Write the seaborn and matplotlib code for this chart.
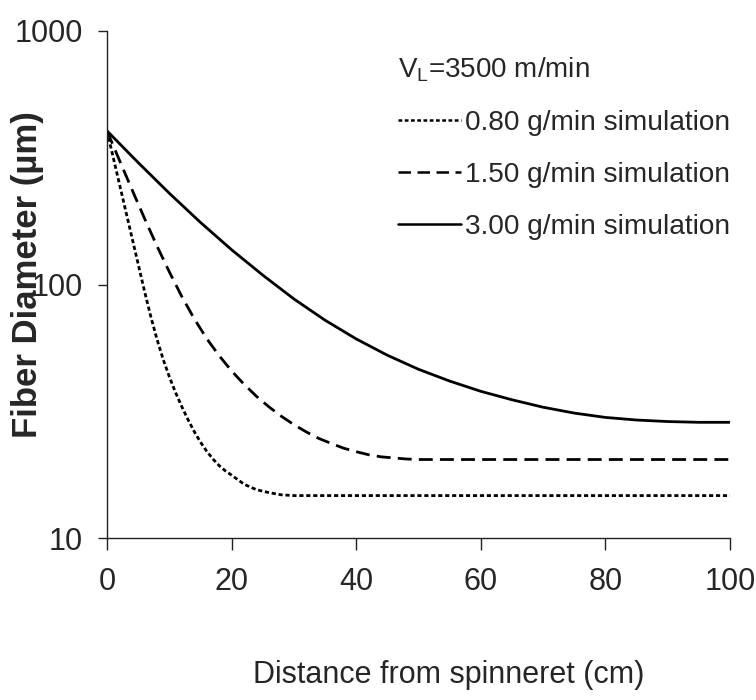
import numpy as np
import pandas as pd
import matplotlib
matplotlib.use("Agg")
import matplotlib.pyplot as plt
import seaborn as sns

# ---- data ----
x_080 = [0, 1, 2, 3, 4, 5, 6, 7, 8, 9, 10, 11, 12, 13, 14, 15, 16, 17, 18, 19, 20,
         22, 24, 26, 28, 30, 40, 50, 60, 70, 80, 90, 100]
d_080 = [403.6, 317, 249, 195.4, 153.5, 120.5, 94.6, 75.2, 61.1, 50.8, 43.3, 37.5,
         33.0, 29.3, 26.3, 23.9, 22.0, 20.5, 19.3, 18.4, 17.7, 16.3, 15.5, 15.1,
         14.8, 14.7, 14.7, 14.7, 14.7, 14.7, 14.7, 14.7, 14.7]

x_150 = [0, 2, 4, 6, 8, 10, 12, 14, 16, 18, 20, 22, 24, 26, 28, 30, 32, 34, 36, 38,
         40, 42, 44, 46, 48, 50, 60, 70, 80, 90, 100]
d_150 = [403.6, 309.0, 237.1, 182.8, 142.2, 112.2, 89.7, 73.3, 61.2, 52.4, 45.6,
         40.4, 36.2, 32.9, 30.2, 28.0, 26.2, 24.7, 23.6, 22.6, 21.9, 21.3, 20.9,
         20.7, 20.5, 20.4, 20.4, 20.4, 20.4, 20.4, 20.4]

x_300 = [0, 5, 10, 15, 20, 25, 30, 35, 40, 45, 50, 55, 60, 65, 70, 75, 80, 85, 90,
         95, 100]
d_300 = [403.6, 302.7, 229.1, 175.8, 137.1, 108.9, 87.7, 72.3, 61.0, 52.6, 46.3,
         41.6, 37.9, 35.1, 32.8, 31.1, 29.9, 29.2, 28.8, 28.6, 28.6]

series_labels = ["0.80 g/min simulation", "1.50 g/min simulation",
                 "3.00 g/min simulation"]
legend_title = r"$\mathregular{V_L}$=3500 m/min"
x_ticks = [0, 20, 40, 60, 80, 100]
y_ticks = [10, 100, 1000]
y_ticklabels = ["10", "100", "1000"]
x_label = "Distance from spinneret (cm)"
y_label = "Fiber Diameter (µm)"

# ---- style ----
sns.set_style("white")
plt.rcParams["font.family"] = ["Liberation Sans", "DejaVu Sans"]
plt.rcParams["mathtext.default"] = "regular"

fig = plt.figure(figsize=(7.56, 7.00), dpi=100)
ax = fig.add_axes([107 / 756, 1 - 538 / 700, (730 - 107) / 756, (538 - 31) / 700])

styles = [(0, (1.5, 1.0)), (0, (5.0, 2.6)), "-"]
data = [(x_080, d_080), (x_150, d_150), (x_300, d_300)]
for (xs, ys), lab, ls in zip(data, series_labels, styles):
    df = pd.DataFrame({"x": xs, "d": ys})
    sns.lineplot(data=df, x="x", y="d", ax=ax, color="black", linewidth=2.0,
                 linestyle=ls, label=lab)

ax.set_yscale("log")
ax.set_xlim(0, 100)
ax.set_ylim(10, 1000)
ax.set_xticks(x_ticks)
ax.set_xticklabels([str(v) for v in x_ticks])
ax.set_yticks(y_ticks)
ax.set_yticklabels(y_ticklabels)
ax.yaxis.set_minor_locator(matplotlib.ticker.NullLocator())

for s in ["top", "right"]:
    ax.spines[s].set_visible(False)
for s in ["left", "bottom"]:
    ax.spines[s].set_color("#222222")
    ax.spines[s].set_linewidth(1.0)

ax.tick_params(axis="x", direction="out", length=8.6, width=1.0, color="#222222",
               labelsize=22, pad=12, bottom=True)
ax.tick_params(axis="y", direction="out", length=6.5, width=1.0, color="#222222",
               labelsize=22, pad=11, left=True)

ax.set_xlabel(x_label, fontsize=22)
ax.xaxis.set_label_coords((449 - 107) / 623, (538 - 660) / 507)
ax.set_ylabel(y_label, fontsize=25, fontweight="bold")
ax.yaxis.label.set_va("center")
ax.yaxis.label.set_ha("center")
ax.yaxis.set_label_coords((27 - 107) / 623, (538 - 275) / 507)

leg = ax.legend(title=legend_title, frameon=False, loc="upper right",
                bbox_to_anchor=(1.0, (538 - 55) / 507), borderaxespad=0.0,
                borderpad=0.0, fontsize=20.2, title_fontsize=20,
                handlelength=2.25, handletextpad=0.15, labelspacing=0.93,
                alignment="left")
for h in leg.get_lines():
    h.set_linewidth(1.8)

fig.savefig("out.png", dpi=100)
